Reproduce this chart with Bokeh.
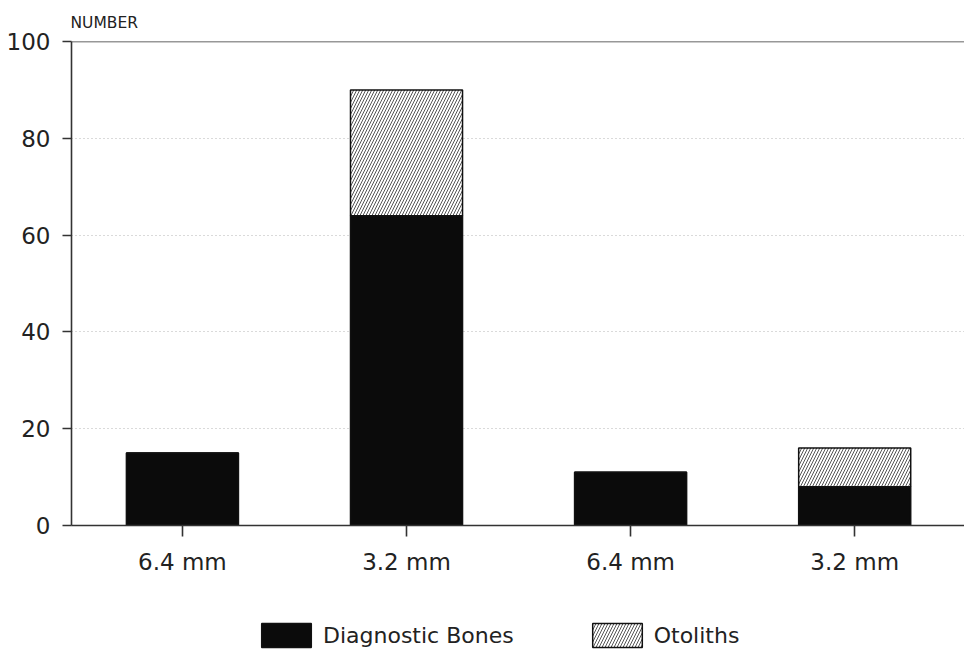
from bokeh.plotting import figure
from bokeh.layouts import column
from bokeh.models import ColumnDataSource, Legend, LegendItem, Span, FixedTicker
from bokeh.embed import file_html
from bokeh.resources import INLINE

# ---- data ----
positions = [1, 2, 3, 4]
tick_labels = ["6.4 mm", "3.2 mm", "6.4 mm", "3.2 mm"]
diagnostic_bones = [15, 64, 11, 8]
otoliths = [0, 26, 0, 8]
y_ticks = [0, 20, 40, 60, 80, 100]
series_names = ["Diagnostic Bones", "Otoliths"]

source = ColumnDataSource(dict(x=positions, bones=diagnostic_bones, otoliths=otoliths))

FONT = "DejaVu Sans"
bar_style = dict(width=0.5, fill_color=["#0b0b0b", "white"],
                 line_color="#111111", line_width=1.5,
                 hatch_pattern=[" ", "/"], hatch_color="#555555",
                 hatch_weight=1, hatch_scale=6)

p = figure(width=964, height=600, output_backend="svg", toolbar_location=None,
           x_range=(0.505, 4.49), y_range=(0, 100),
           min_border_left=71, min_border_right=0, min_border_top=41, min_border_bottom=75)

p.background_fill_color = "white"
p.border_fill_color = "white"
p.outline_line_color = None

p.vbar_stack(["bones", "otoliths"], x="x", source=source, **bar_style)

# top line at 100
p.add_layout(Span(location=100, dimension="width", line_color="#333333", line_width=1.6))

# axes
p.xaxis.ticker = FixedTicker(ticks=positions)
p.xaxis.major_label_overrides = {pos: lab for pos, lab in zip(positions, tick_labels)}
p.yaxis.ticker = FixedTicker(ticks=y_ticks)
for ax in (p.xaxis[0], p.yaxis[0]):
    ax.axis_line_color = "#333333"
    ax.axis_line_width = 1.6
    ax.major_tick_line_color = "#333333"
    ax.major_tick_line_width = 1.6
    ax.minor_tick_line_color = None
    ax.major_tick_in = 0
    ax.major_label_text_font = FONT
    ax.major_label_text_font_size = "23px"
    ax.major_label_text_color = "#222222"
p.xaxis.major_tick_out = 11
p.xaxis.major_label_standoff = 12
p.yaxis.major_tick_out = 9
p.yaxis.major_label_standoff = 12

p.xgrid.grid_line_color = None
p.ygrid.grid_line_color = "#b5b5b5"
p.ygrid.grid_line_dash = "1 3"
p.ygrid.grid_line_width = 1.2

# title
p.title.text = "NUMBER"
p.title.text_font = FONT
p.title.text_font_size = "15.5px"
p.title.text_font_style = "normal"
p.title.text_color = "#222222"
p.title.align = "left"
p.title.offset = -1
p.title.standoff = 19

# legend strip below the chart
pl = figure(width=964, height=52, output_backend="svg", toolbar_location=None,
            x_axis_location=None, y_axis_location=None, min_border=0,
            x_range=(0, 1), y_range=(0, 1))
pl.outline_line_color = None
pl.grid.grid_line_color = None
legend_renderers = pl.vbar_stack(["bones", "otoliths"], x="x", source=source,
                                 visible=False, **bar_style)
legend = Legend(items=[LegendItem(label=name, renderers=[r])
                       for name, r in zip(series_names, legend_renderers)],
                orientation="horizontal", location=(184, 2),
                glyph_width=62, glyph_height=30, label_height=30,
                label_standoff=6, spacing=72, padding=0, margin=0,
                border_line_color=None, background_fill_alpha=0,
                inactive_fill_alpha=0,
                label_text_font=FONT, label_text_font_size="22px",
                label_text_color="#222222")
pl.add_layout(legend, "center")

layout = column(p, pl, spacing=0)
open("out.html", "w").write(file_html(layout, INLINE))
